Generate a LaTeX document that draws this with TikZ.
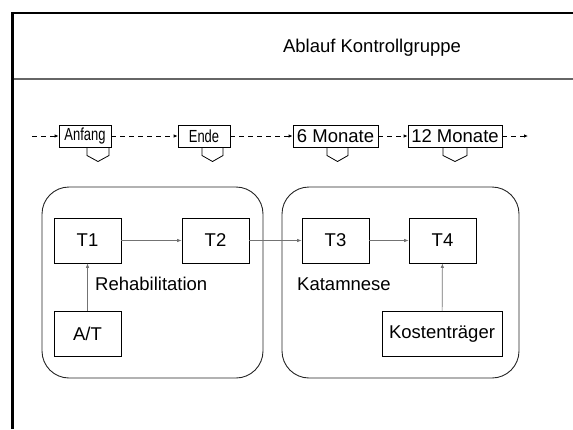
\documentclass[tikz,border=0pt]{standalone}
\usepackage{fontspec}
\usepackage{graphicx}
\setmainfont{Liberation Sans}
\usetikzlibrary{arrows.meta}
\tikzset{
  lbl/.style={font=\fontsize{18.5}{22}\selectfont, text=black},
  tbox/.style={draw=black, line width=0.8pt, inner sep=0pt, minimum height=22pt, lbl},
  sbox/.style={draw=black, line width=0.8pt, inner sep=0pt, minimum width=67pt, minimum height=45pt, lbl},
  group/.style={draw=black!85, line width=0.9pt, rounded corners=27pt, inner sep=0pt},
  tab/.style={draw=black, line width=0.8pt},
  tline/.style={draw=black, line width=0.8pt, dash pattern=on 5pt off 4pt, -{Latex[length=4pt,width=3.5pt]}},
  conn/.style={draw=black!55, line width=0.7pt, -{Latex[length=4.5pt,width=3.5pt]}}
}
\newcommand{\narrowtxt}[1]{{\fontsize{17.5}{21}\selectfont\scalebox{0.74}[1]{#1}}}
\begin{document}
\begin{tikzpicture}[x=1pt,y=-1pt]
\useasboundingbox (0,0) rectangle (573,429);
% frame
\draw[line width=2.2pt, line join=miter] (12.5,429) -- (12.5,13) -- (573,13);
\draw[black!60, line width=1.2pt] (13.5,79) -- (573,79);
\node[lbl] (title) at (372,48) {Ablauf Kontrollgruppe};
% timeline
\coordinate (t0) at (32,136);
\coordinate (t5) at (528,136);
\node[tbox, minimum width=52pt] (anf) at (85,136) {\narrowtxt{Anfang}};
\node[tbox, minimum width=52pt] (end) at (204,136) {\narrowtxt{Ende}};
\node[tbox, minimum width=85pt] (m6) at (335.5,136) {6 Monate};
\node[tbox, minimum width=94pt] (m12) at (455,136) {12 Monate};
\draw[tline] (t0) -- (anf.west);
\draw[tline] (anf.east) -- (end.west);
\draw[tline] (end.east) -- (m6.west);
\draw[tline] (m6.east) -- (m12.west);
\draw[tline] (m12.east) -- (t5);
% tabs
\draw[tab] (87,147) -- (87,155.5) -- (98,161.5) -- (109,155.5) -- (109,147);
\draw[tab] (202,147) -- (202,155.5) -- (212.5,161.5) -- (223,155.5) -- (223,147);
\draw[tab] (327,147) -- (327,155.5) -- (337.5,161.5) -- (348,155.5) -- (348,147);
\draw[tab] (443,147) -- (443,155.5) -- (455,161.5) -- (467,155.5) -- (467,147);
% groups
\node[group, minimum width=221pt, minimum height=191pt] (rehab) at (152.5,282.5) {};
\node[group, minimum width=237pt, minimum height=191pt] (kata) at (400.5,282.5) {};
% boxes
\node[sbox] (t1) at (87.5,240.5) {T1};
\node[sbox] (t2) at (215.5,240.5) {T2};
\node[sbox] (at) at (87.5,334) {A/T};
\node[sbox] (t3) at (335.5,240.5) {T3};
\node[sbox] (t4) at (442.5,240.5) {T4};
\node[sbox, minimum width=120pt] (kt) at (442,334) {Kostenträger};
\node[lbl, anchor=west, inner sep=0pt] (rl) at (95,284) {Rehabilitation};
\node[lbl, anchor=west, inner sep=0pt] (kl) at (297,284) {Katamnese};
% connectors
\draw[conn] (t1) -- (t2);
\draw[conn] (t2) -- (t3);
\draw[conn] (t3) -- (t4);
\draw[conn] (at) -- (t1);
\draw[conn] (kt) -- (t4);
\end{tikzpicture}
\end{document}
